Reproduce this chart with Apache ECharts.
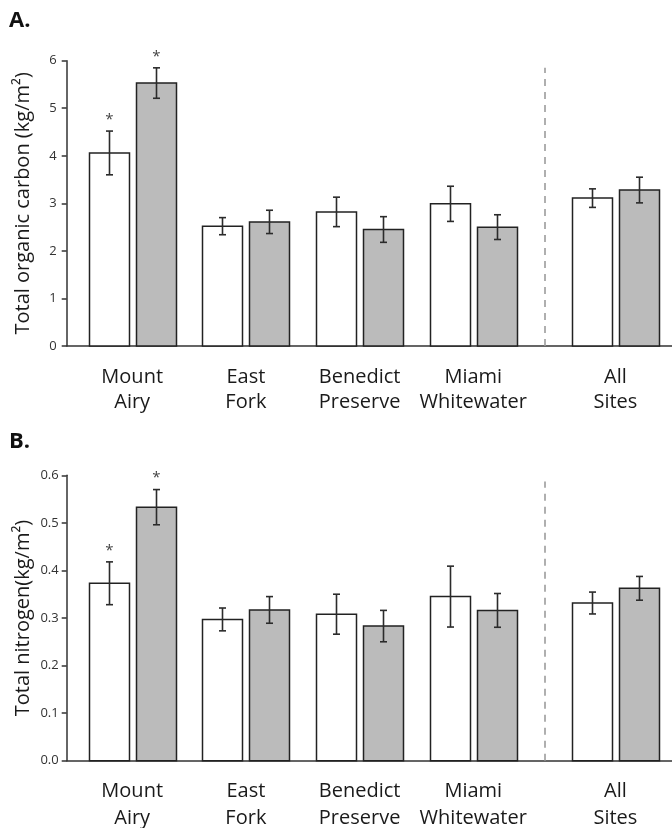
<!DOCTYPE html>
<html>
<head>
<meta charset="utf-8">
<script src="https://cdn.jsdelivr.net/npm/echarts@6/dist/echarts.min.js"></script>
<style>
html,body{margin:0;padding:0;background:#fff;}
#chart{width:672px;height:828px;}
</style>
</head>
<body>
<div id="chart"></div>
<script>
// ---- data ----
var sites = ['Mount\nAiry', 'East\nFork', 'Benedict\nPreserve', 'Miami\nWhitewater', 'All\nSites'];
var sitePos = [1, 2, 3, 4, 5.25];          // group positions on the x scale (gap before "All Sites")
var separatorPos = 4.625;                  // dashed divider between sites and "All Sites"

var carbonWhite = [4.06, 2.52, 2.82, 2.99, 3.11];
var carbonWhiteSE = [0.46, 0.18, 0.31, 0.37, 0.195];
var carbonGray = [5.53, 2.61, 2.45, 2.50, 3.28];
var carbonGraySE = [0.32, 0.245, 0.27, 0.26, 0.27];
var carbonWhiteSig = [1, 0, 0, 0, 0];
var carbonGraySig = [1, 0, 0, 0, 0];
var carbonTicks = [0, 6, 1];               // min, max, interval
var carbonDividerTop = 5.85;

var nitroWhite = [0.373, 0.297, 0.308, 0.345, 0.3315];
var nitroWhiteSE = [0.045, 0.024, 0.042, 0.064, 0.023];
var nitroGray = [0.533, 0.317, 0.283, 0.316, 0.3624];
var nitroGraySE = [0.037, 0.028, 0.033, 0.0355, 0.025];
var nitroWhiteSig = [1, 0, 0, 0, 0];
var nitroGraySig = [1, 0, 0, 0, 0];
var nitroTicks = [0, 0.6, 0.1];
var nitroDividerTop = 0.587;

// ---- build ----
var FONT = 'Open Sans';
var BAR_W = 40, GAP = 7;
var OFF = (BAR_W + GAP) / 2;

function pairs(vals) { return vals.map(function (v, i) { return [sitePos[i], v]; }); }
function errData(vals, se, sig) {
  return vals.map(function (v, i) { return [sitePos[i], v - se[i], v + se[i], sig[i]]; });
}
function errSeries(idx, data, dx) {
  return {
    type: 'custom', xAxisIndex: idx, yAxisIndex: idx, z: 5, silent: true,
    data: data,
    encode: { x: 0, y: [1, 2] },
    renderItem: function (params, api) {
      var lo = api.coord([api.value(0), api.value(1)]);
      var hi = api.coord([api.value(0), api.value(2)]);
      var x = Math.round(lo[0] + dx) + 0.5, cap = 3.5;
      var st = { stroke: '#2b2b2b', lineWidth: 1.6 };
      var ch = [
        { type: 'line', shape: { x1: x, y1: lo[1], x2: x, y2: hi[1] }, style: st },
        { type: 'line', shape: { x1: x - cap, y1: lo[1], x2: x + cap, y2: lo[1] }, style: st },
        { type: 'line', shape: { x1: x - cap, y1: hi[1], x2: x + cap, y2: hi[1] }, style: st }
      ];
      if (api.value(3)) {
        ch.push({ type: 'text', style: { text: '*', x: x, y: hi[1] - 4, align: 'center', verticalAlign: 'bottom',
          font: '15px "' + FONT + '"', fill: '#444' } });
      }
      return { type: 'group', children: ch };
    }
  };
}
function barSeries(idx, vals, color, dx, divider) {
  var s = {
    type: 'custom', xAxisIndex: idx, yAxisIndex: idx, z: 3, silent: true,
    data: pairs(vals),
    encode: { x: 0, y: 1 },
    renderItem: function (params, api) {
      var base = api.coord([api.value(0), 0]);
      var top = api.coord([api.value(0), api.value(1)]);
      var x0 = Math.round(base[0] + dx - BAR_W / 2) + 0.5;
      return {
        type: 'rect',
        shape: { x: x0, y: top[1], width: BAR_W, height: base[1] - top[1] },
        style: { fill: color, stroke: '#222', lineWidth: 1.5 }
      };
    }
  };
  if (divider != null) {
    s.markLine = {
      silent: true, symbol: 'none', label: { show: false }, animation: false,
      lineStyle: { color: '#9c9c9c', width: 1.6, type: [7, 6] },
      data: [[{ coord: [separatorPos, 0] }, { coord: [separatorPos, divider] }]]
    };
  }
  return s;
}
function xAxis(idx, margin, lh) {
  return {
    type: 'value', gridIndex: idx, min: 0.424, max: 5.748,
    splitLine: { show: false },
    axisLine: { show: true, lineStyle: { color: '#333', width: 1.5 } },
    axisTick: { show: false },
    axisLabel: {
      customValues: sitePos, margin: margin,
      fontFamily: FONT, fontSize: 20, color: '#1a1a1a', lineHeight: lh,
      formatter: function (v) {
        for (var i = 0; i < sitePos.length; i++) if (Math.abs(sitePos[i] - v) < 1e-6) return sites[i];
        return '';
      }
    }
  };
}
function yAxis(idx, ticks, name, dec, margin) {
  return {
    type: 'value', gridIndex: idx, min: ticks[0], max: ticks[1], interval: ticks[2],
    name: name, nameLocation: 'middle', nameGap: 33, nameMoveOverlap: false,
    nameTextStyle: { fontFamily: FONT, fontSize: 20, color: '#1a1a1a' },
    splitLine: { show: false },
    axisLine: { show: true, lineStyle: { color: '#333', width: 1.5 } },
    axisTick: { show: true, length: 5, lineStyle: { color: '#333', width: 1.5 } },
    axisLabel: { fontFamily: FONT, fontSize: 13, color: '#333', margin: margin,
      formatter: function (v) { return v.toFixed(dec); } }
  };
}

var option = {
  animation: false,
  backgroundColor: '#fff',
  title: [
    { text: 'A.', left: 4, top: 5, textStyle: { fontFamily: FONT, fontWeight: 'bold', fontSize: 22, color: '#111' } },
    { text: 'B.', left: 4, top: 426, textStyle: { fontFamily: FONT, fontWeight: 'bold', fontSize: 22, color: '#111' } }
  ],
  grid: [
    { left: 66.7, right: 0, top: 60.7, height: 285.3, outerBoundsMode: 'none', containLabel: false },
    { left: 66.7, right: 0, top: 475.3, height: 285.4, outerBoundsMode: 'none', containLabel: false }
  ],
  xAxis: [xAxis(0, 19, 25), xAxis(1, 17, 27)],
  yAxis: [
    yAxis(0, carbonTicks, 'Total organic carbon (kg/m²)', 0, 10),
    yAxis(1, nitroTicks, 'Total nitrogen(kg/m²)', 1, 8)
  ],
  series: [
    barSeries(0, carbonWhite, '#ffffff', -OFF, carbonDividerTop),
    barSeries(0, carbonGray, '#bbbbbb', OFF, null),
    errSeries(0, errData(carbonWhite, carbonWhiteSE, carbonWhiteSig), -OFF),
    errSeries(0, errData(carbonGray, carbonGraySE, carbonGraySig), OFF),
    barSeries(1, nitroWhite, '#ffffff', -OFF, nitroDividerTop),
    barSeries(1, nitroGray, '#bbbbbb', OFF, null),
    errSeries(1, errData(nitroWhite, nitroWhiteSE, nitroWhiteSig), -OFF),
    errSeries(1, errData(nitroGray, nitroGraySE, nitroGraySig), OFF)
  ]
};
var chart = echarts.init(document.getElementById('chart'), null, { renderer: 'canvas' });
chart.setOption(option);
</script>
</body>
</html>
